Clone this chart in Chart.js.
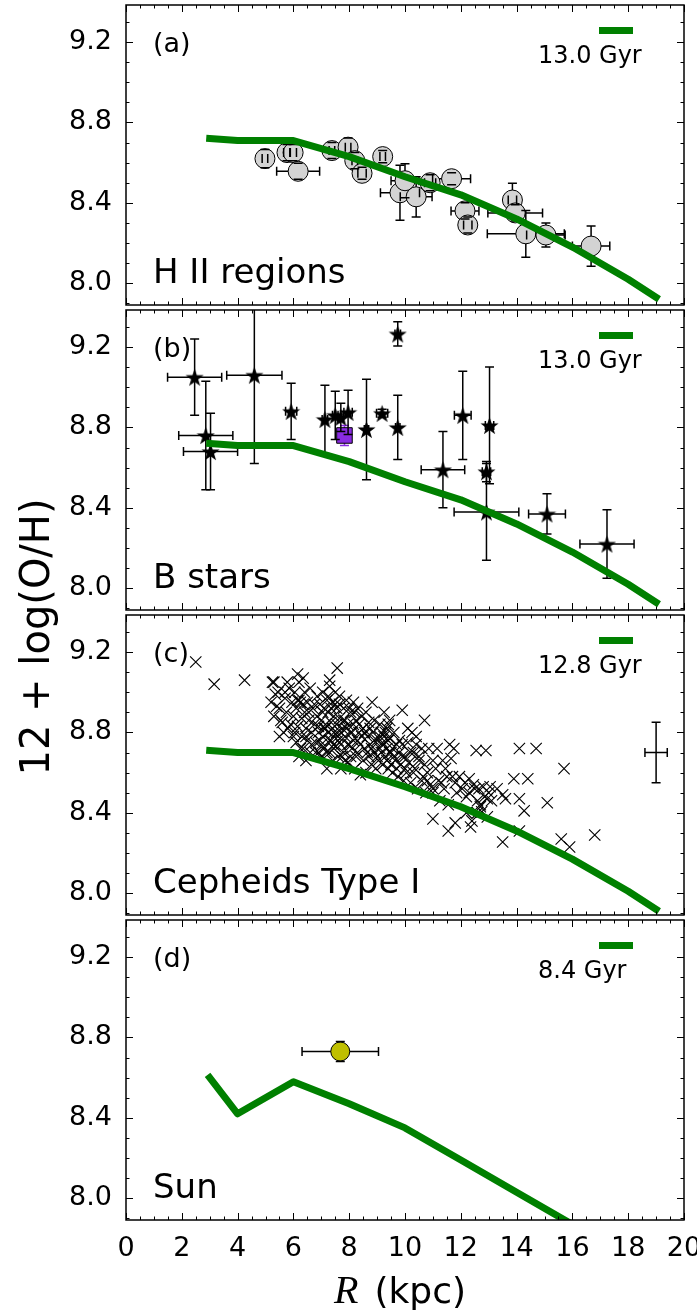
<!DOCTYPE html>
<html>
<head>
<meta charset="utf-8">
<script src="https://cdn.jsdelivr.net/npm/chart.js@4.4.0/dist/chart.umd.min.js"></script>
<style>
  body { margin: 0; background: #fff; }
  #fig { position: relative; width: 697px; height: 1314px; overflow: hidden; font-family: "DejaVu Sans", sans-serif; color: #000; }
  #fig canvas { position: absolute; left: 0; }
  .t { position: absolute; white-space: nowrap; line-height: 1; }
  .bar { position: absolute; background: #008000; }
</style>
</head>
<body>
<div id="fig"></div>
<script>
// ---- data ----
const X_TICKS = [0, 2, 4, 6, 8, 10, 12, 14, 16, 18, 20];
const Y_TICKS = [8.0, 8.4, 8.8, 9.2];
const Y_MIN = 7.892, Y_MAX = 9.384;

const PANEL_TAGS = ['(a)', '(b)', '(c)', '(d)'];
const PANEL_NAMES = ['H II regions', 'B stars', 'Cepheids Type I', 'Sun'];
const PANEL_AGES = ['13.0 Gyr', '13.0 Gyr', '12.8 Gyr', '8.4 Gyr'];

// model gradients
const MODEL_R = [3, 4, 6, 8, 10, 12, 14, 16, 18, 19];
const MODEL_13 = [8.72, 8.71, 8.71, 8.63, 8.53, 8.44, 8.32, 8.18, 8.02, 7.93];
const MODEL_128 = [8.71, 8.70, 8.70, 8.62, 8.53, 8.43, 8.31, 8.17, 8.01, 7.92];
const MODEL_R_SUN = [3, 4, 6, 8, 10, 12, 14, 16, 18];
const MODEL_84 = [8.60, 8.42, 8.58, 8.47, 8.35, 8.19, 8.03, 7.87, 7.70];

// (a) H II regions
const HII_R = [4.98, 5.77, 5.99, 6.17, 7.38, 7.96, 8.2, 8.46, 9.2, 9.82, 10.0, 10.4, 10.9, 11.67, 12.15, 12.25, 13.85, 13.95, 14.33, 15.05, 16.67];
const HII_OH = [8.62, 8.65, 8.65, 8.557, 8.66, 8.677, 8.61, 8.547, 8.63, 8.45, 8.51, 8.43, 8.5, 8.52, 8.36, 8.29, 8.414, 8.35, 8.246, 8.24, 8.185];
const HII_RERR = [0.1, 0.12, 0.12, 0.77, 0.1, 0.1, 0.1, 0.15, 0.1, 0.7, 0.5, 0.57, 0.2, 0.68, 0.5, 0.15, 0.15, 0.98, 1.38, 0.69, 0.67];
const HII_OHERR = [0.045, 0.04, 0.04, 0.04, 0.04, 0.045, 0.04, 0.03, 0.03, 0.137, 0.085, 0.1, 0.04, 0.03, 0.04, 0.04, 0.083, 0.04, 0.116, 0.06, 0.1];

// (b) B stars
const BST_R = [2.46, 4.6, 2.86, 3.03, 5.92, 7.13, 7.5, 7.7, 7.96, 8.62, 9.18, 9.74, 9.74, 11.36, 12.07, 13.03, 12.92, 12.92, 15.09, 17.24];
const BST_OH = [9.05, 9.06, 8.76, 8.68, 8.88, 8.84, 8.86, 8.85, 8.875, 8.79, 8.87, 9.265, 8.80, 8.59, 8.86, 8.81, 8.58, 8.38, 8.37, 8.22];
const BST_RERR = [0.97, 0.99, 0.97, 0.97, 0.2, 0.1, 0.1, 0.1, 0.15, 0.08, 0.2, 0.1, 0.08, 0.78, 0.3, 0.15, 0.15, 1.16, 0.66, 0.97];
const BST_OHERR = [0.19, 0.44, 0.27, 0.19, 0.14, 0.17, 0.12, 0.07, 0.11, 0.25, 0.02, 0.06, 0.16, 0.19, 0.22, 0.29, 0.05, 0.24, 0.10, 0.17];
const BSQ_R = [7.83], BSQ_OH = [8.76], BSQ_RERR = [0.18], BSQ_OHERR = [0.05];

// (c) Cepheids
const CEPH_R = [
  2.5, 3.16, 4.25, 5.3, 5.78, 6.15, 7.57, 7.3, 8.82, 9.9, 10.7,
  5.2, 5.25, 5.3, 5.4, 5.45, 5.5, 5.6, 5.65, 5.7, 5.75, 5.8, 5.85, 5.5, 5.35,
  5.95, 6.0, 6.0, 6.05, 6.1, 6.1, 6.15, 6.2, 6.2, 6.25, 6.3, 6.3, 6.35, 6.35, 6.4, 6.4, 6.45, 6.5, 6.5, 6.55, 6.6, 6.6, 6.65, 6.7, 6.75, 6.8, 6.85, 6.85, 6.2, 6.45,
  6.9, 6.9, 6.95, 7.0, 7.0, 7.05, 7.05, 7.1, 7.1, 7.15, 7.2, 7.2, 7.25, 7.25, 7.3, 7.3, 7.35, 7.35, 7.4, 7.4, 7.45, 7.45, 7.5, 7.5, 7.55, 7.55, 7.6, 7.6, 7.65, 7.65, 7.7, 7.7, 7.75, 7.8, 7.8, 7.1, 7.45,
  7.85, 7.85, 7.9, 7.95, 7.95, 8.0, 8.05, 8.05, 8.1, 8.15, 8.15, 8.2, 8.25, 8.3, 8.3, 8.35, 8.4, 8.4, 8.45, 8.5, 8.5, 8.55, 8.6, 8.6, 8.65, 8.7, 8.7, 8.75, 8.8,
  8.85, 8.9, 8.9, 8.95, 9.0, 9.05, 9.1, 9.1, 9.15, 9.2, 9.2, 9.25, 9.3, 9.35, 9.35, 9.4, 9.45, 9.45, 9.5, 9.55, 9.6, 9.65, 9.7, 9.75, 9.8, 9.25, 9.4,
  9.85, 9.9, 9.95, 10.0, 10.05, 10.1, 10.15, 10.2, 10.25, 10.3, 10.35, 10.4, 10.45, 10.5, 10.6, 10.65, 10.7, 10.75, 10.4, 10.1,
  10.8, 10.85, 10.9, 11.0, 11.0, 11.1, 11.15, 11.2, 11.25, 11.35, 11.4, 11.45, 11.55, 11.6, 11.65, 11.75, 11.8, 11.5,
  11.85, 11.95, 12.05, 12.15, 12.2, 12.3, 12.3, 12.4, 12.45, 12.5, 12.6, 12.65, 12.7, 12.8, 12.95, 13.0, 13.05,
  12.55, 12.9, 14.1, 14.7, 15.7, 13.9, 14.4, 15.1, 14.27, 14.1, 13.5, 13.6, 11.0, 11.55, 11.8, 12.35, 13.5, 14.1, 15.6, 15.9, 16.8, 12.75, 12.7, 12.95,
  5.55, 5.7, 5.9, 6.05, 6.15, 6.25, 6.35, 6.45, 6.55, 6.65, 6.75, 6.8, 6.9, 6.95, 7.0, 7.05, 7.15, 7.2, 7.25, 7.3, 7.35, 7.4, 7.45, 7.5, 7.55,
  7.6, 7.65, 7.7, 7.75, 7.8, 7.85, 7.9, 7.95, 8.0, 8.05, 8.1, 8.15, 8.2, 8.25, 8.3, 8.35, 8.45, 8.55, 8.65, 8.75, 8.8, 8.9, 9.0, 9.1, 9.15,
  9.2, 9.3, 9.35, 9.4, 9.45, 9.5, 9.55, 9.6, 9.7, 9.8, 9.9, 10.0, 10.2, 10.3, 10.5, 10.6, 10.8, 11.0, 11.3, 11.7, 12.2, 12.6, 12.85, 13.1, 13.3
];
const CEPH_OH = [
  9.15, 9.04, 9.06, 9.05, 9.05, 9.09, 9.12, 9.06, 8.95, 8.91, 8.86,
  8.95, 9.05, 8.88, 8.93, 9.0, 8.92, 8.85, 8.8, 8.97, 8.9, 8.82, 9.02, 8.78, 8.99,
  8.95, 8.88, 8.78, 9.0, 8.92, 8.75, 8.83, 8.68, 9.05, 8.95, 8.87, 8.78, 8.72, 9.07, 9.0, 8.9, 8.82, 8.95, 8.76, 8.86, 8.7, 9.02, 8.8, 8.92, 8.84, 8.75, 8.98, 8.88, 8.96, 8.66,
  8.7, 8.8, 8.94, 8.86, 8.68, 9.0, 8.78, 8.92, 8.72, 8.84, 8.96, 8.62, 8.8, 8.9, 8.7, 9.03, 8.85, 8.76, 8.95, 8.66, 8.88, 8.8, 8.73, 9.0, 8.84, 8.92, 8.68, 8.78, 8.87, 8.98, 8.74, 8.62, 8.82, 8.92, 8.7, 8.82, 8.74,
  8.86, 8.78, 8.96, 8.65, 8.84, 8.74, 8.9, 8.68, 8.8, 8.95, 8.76, 8.62, 8.86, 8.7, 8.92, 8.8, 8.59, 8.74, 8.88, 8.66, 8.82, 8.72, 8.9, 8.6, 8.78, 8.68, 8.85, 8.74, 8.64,
  8.8, 8.7, 8.86, 8.62, 8.76, 8.66, 8.72, 8.84, 8.8, 8.64, 8.75, 8.9, 8.68, 8.82, 8.72, 8.62, 8.77, 8.86, 8.7, 8.6, 8.8, 8.66, 8.74, 8.58, 8.7, 8.78, 8.84,
  8.64, 8.74, 8.56, 8.68, 8.6, 8.75, 8.65, 8.55, 8.8, 8.7, 8.62, 8.74, 8.52, 8.66, 8.72, 8.58, 8.64, 8.5, 8.78, 8.82,
  8.6, 8.72, 8.54, 8.66, 8.5, 8.62, 8.72, 8.56, 8.46, 8.66, 8.52, 8.62, 8.44, 8.74, 8.67, 8.72, 8.55, 8.58,
  8.5, 8.58, 8.52, 8.55, 8.4, 8.57, 8.5, 8.36, 8.54, 8.52, 8.4, 8.52, 8.44, 8.53, 8.38, 8.5, 8.53,
  8.71, 8.71, 8.72, 8.72, 8.62, 8.57, 8.57, 8.45, 8.41, 8.47, 8.49, 8.47, 8.37, 8.31, 8.35, 8.33, 8.255, 8.31, 8.27, 8.23, 8.29, 8.405, 8.43, 8.47,
  8.86, 9.0, 8.84, 8.8, 8.96, 8.72, 8.94, 8.78, 8.9, 8.74, 8.94, 8.7, 8.83, 8.76, 8.74, 8.9, 8.82, 8.7, 8.98, 8.76, 8.92, 8.82, 8.72, 8.94, 8.8,
  8.76, 8.94, 8.8, 8.68, 8.86, 8.66, 8.82, 8.74, 8.92, 8.8, 8.72, 8.84, 8.9, 8.68, 8.76, 8.84, 8.78, 8.8, 8.7, 8.82, 8.72, 8.76, 8.68, 8.78, 8.7,
  8.74, 8.8, 8.66, 8.76, 8.7, 8.64, 8.72, 8.68, 8.62, 8.76, 8.68, 8.62, 8.7, 8.6, 8.68, 8.56, 8.56, 8.52, 8.55, 8.58, 8.48, 8.46, 8.48, 8.46, 8.52
];
// representative Cepheid uncertainty
const CEPH_BAR_R = [19.0], CEPH_BAR_OH = [8.70], CEPH_BAR_RERR = [0.4], CEPH_BAR_OHERR = [0.15];

// (d) Sun
const SUN_R = [7.68], SUN_OH = [8.73], SUN_RERR = [1.37], SUN_OHERR = [0.05];

// ---- helpers ----
const GREEN = '#008000';
const FONT = 'DejaVu Sans';
const pts = (xs, ys) => xs.map((x, i) => ({ x: x, y: ys[i] }));

function starImage(size) {
  const c = document.createElement('canvas');
  c.width = c.height = size;
  const g = c.getContext('2d');
  const r = size / 2, ri = r * 0.39;
  g.beginPath();
  for (let i = 0; i < 10; i++) {
    const a = -Math.PI / 2 + i * Math.PI / 5;
    const rr = i % 2 ? ri : r;
    g.lineTo(r + rr * Math.cos(a), r + 1 + rr * Math.sin(a));
  }
  g.closePath();
  g.fillStyle = '#000';
  g.fill();
  return c;
}

// error bars: bar lines under the marker, caps over it (matplotlib look)
function drawErr(chart, idx, part) {
  const ds = chart.data.datasets[idx];
  if (!ds.xErr && !ds.yErr) return;
  const { ctx, chartArea: a, scales: { x, y } } = chart;
  ctx.save();
  ctx.beginPath();
  ctx.rect(a.left, a.top, a.right - a.left, a.bottom - a.top);
  ctx.clip();
  ctx.strokeStyle = ds.errColor || '#000';
  ctx.lineWidth = 1.5;
  const cap = 4.5;
  ds.data.forEach((p, i) => {
    const px = x.getPixelForValue(p.x), py = y.getPixelForValue(p.y);
    const ex = ds.xErr ? ds.xErr[i] : 0, ey = ds.yErr ? ds.yErr[i] : 0;
    ctx.beginPath();
    if (ex) {
      const l = x.getPixelForValue(p.x - ex), r = x.getPixelForValue(p.x + ex);
      if (part === 'bars') { ctx.moveTo(l, py); ctx.lineTo(r, py); }
      else {
        ctx.moveTo(l, py - cap); ctx.lineTo(l, py + cap);
        ctx.moveTo(r, py - cap); ctx.lineTo(r, py + cap);
      }
    }
    if (ey) {
      const t = y.getPixelForValue(p.y + ey), b = y.getPixelForValue(p.y - ey);
      if (part === 'bars') { ctx.moveTo(px, t); ctx.lineTo(px, b); }
      else {
        ctx.moveTo(px - cap, t); ctx.lineTo(px + cap, t);
        ctx.moveTo(px - cap, b); ctx.lineTo(px + cap, b);
      }
    }
    ctx.stroke();
  });
  ctx.restore();
}

const errorBars = {
  id: 'errorBars',
  beforeDatasetDraw(chart, args) { drawErr(chart, args.index, 'bars'); },
  afterDatasetDraw(chart, args) { drawErr(chart, args.index, 'caps'); }
};

// box and inward ticks on all four sides
const frame = {
  id: 'frame',
  afterDraw(chart) {
    const { ctx, chartArea: a, scales: { x, y } } = chart;
    ctx.save();
    ctx.strokeStyle = '#000';
    ctx.lineWidth = 1;
    ctx.beginPath();
    for (let k = 0; k <= 40; k++) {
      const px = Math.round(x.getPixelForValue(k / 2)) + 0.5;
      const len = (k % 4 === 0) ? 7 : 3.5;
      ctx.moveTo(px, a.bottom); ctx.lineTo(px, a.bottom - len);
      ctx.moveTo(px, a.top); ctx.lineTo(px, a.top + len);
    }
    for (let k = 79; k <= 93; k++) {
      const py = Math.round(y.getPixelForValue(k / 10)) + 0.5;
      const len = (k % 4 === 0) ? 7 : 3.5;
      ctx.moveTo(a.left, py); ctx.lineTo(a.left + len, py);
      ctx.moveTo(a.right, py); ctx.lineTo(a.right - len, py);
    }
    ctx.stroke();
    ctx.lineWidth = 1.5;
    ctx.strokeRect(a.left, a.top, a.right - a.left, a.bottom - a.top);
    ctx.restore();
  }
};

function modelSet(xs, ys) {
  return {
    data: pts(xs, ys), showLine: true, pointRadius: 0, borderColor: GREEN,
    borderWidth: 7, borderCapStyle: 'square', borderJoinStyle: 'round', order: 0
  };
}

const fig = document.getElementById('fig');
const PANEL_TOP = [5, 310, 615, 920];
const PANEL_H = 300;

function makePanel(i, datasets) {
  const last = i === 3;
  const cv = document.createElement('canvas');
  const top = PANEL_TOP[i] - 5;
  const h = last ? 1314 - top : PANEL_H + 10;
  cv.width = 697; cv.height = h;
  cv.style.top = top + 'px';
  fig.appendChild(cv);
  new Chart(cv, {
    type: 'scatter',
    data: { datasets: datasets },
    options: {
      responsive: false, animation: false, devicePixelRatio: 1,
      layout: { autoPadding: false, padding: { top: 5, right: 13, bottom: last ? 0 : 5, left: 0 } },
      plugins: { legend: { display: false }, tooltip: { enabled: false } },
      scales: {
        x: {
          type: 'linear', min: 0, max: 20, display: last,
          grid: { display: false }, border: { display: false },
          afterBuildTicks: s => { s.ticks = X_TICKS.map(v => ({ value: v })); },
          afterFit: s => {
            if (last) s.height = h - 5 - PANEL_H;
            s.paddingLeft = 0; s.paddingRight = 0;
          },
          ticks: { color: '#000', font: { family: FONT, size: 27 }, padding: 5, maxRotation: 0, autoSkip: false }
        },
        y: {
          type: 'linear', min: Y_MIN, max: Y_MAX,
          grid: { display: false }, border: { display: false },
          afterBuildTicks: s => { s.ticks = Y_TICKS.map(v => ({ value: v })); },
          afterFit: s => { s.width = 126; s.paddingTop = 0; s.paddingBottom = 0; },
          ticks: { color: '#000', font: { family: FONT, size: 27 }, padding: 6, callback: v => v.toFixed(1) }
        }
      }
    },
    plugins: [errorBars, frame]
  });

  // panel texts
  const T = PANEL_TOP[i];
  addText(PANEL_TAGS[i], 153, T + 47, 27);
  addText(PANEL_NAMES[i], 153, T + 278, 34);
  addText(PANEL_AGES[i], 538, T + 58, 24);
  const bar = document.createElement('div');
  bar.className = 'bar';
  bar.style.cssText = `left:599px;top:${T + 22}px;width:34px;height:7px;`;
  fig.appendChild(bar);
}

function addText(txt, left, baseline, size) {
  const d = document.createElement('div');
  d.className = 't';
  d.textContent = txt;
  d.style.left = left + 'px';
  d.style.top = (baseline - 0.846 * size) + 'px';
  d.style.fontSize = size + 'px';
  fig.appendChild(d);
}

const star = starImage(19);

makePanel(0, [
  modelSet(MODEL_R, MODEL_13),
  { data: pts(HII_R, HII_OH), xErr: HII_RERR, yErr: HII_OHERR, pointStyle: 'circle', pointRadius: 10,
    backgroundColor: '#d3d3d3', borderColor: '#000', borderWidth: 1, order: 1 }
]);
makePanel(1, [
  modelSet(MODEL_R, MODEL_13),
  { data: pts(BST_R, BST_OH), xErr: BST_RERR, yErr: BST_OHERR, pointStyle: star, pointRadius: 9, order: 1 },
  { data: pts(BSQ_R, BSQ_OH), xErr: BSQ_RERR, yErr: BSQ_OHERR, errColor: '#8a2be2', pointStyle: 'rect', pointRadius: 11,
    backgroundColor: '#8a2be2', borderColor: '#000', borderWidth: 1, order: 2 }
]);
makePanel(2, [
  modelSet(MODEL_R, MODEL_128),
  { data: pts(CEPH_R, CEPH_OH), pointStyle: 'crossRot', pointRadius: 8, borderColor: '#000', borderWidth: 1.1, order: 1 },
  { data: pts(CEPH_BAR_R, CEPH_BAR_OH), xErr: CEPH_BAR_RERR, yErr: CEPH_BAR_OHERR, pointRadius: 0, order: 2 }
]);
makePanel(3, [
  modelSet(MODEL_R_SUN, MODEL_84),
  { data: pts(SUN_R, SUN_OH), xErr: SUN_RERR, yErr: SUN_OHERR, pointStyle: 'circle', pointRadius: 9.5,
    backgroundColor: '#bfbf00', borderColor: '#000', borderWidth: 1, order: 1 }
]);

// axis titles
const yl = document.createElement('div');
yl.className = 't';
yl.textContent = '12 + log(O/H)';
yl.style.cssText = 'left:-165px;top:617px;width:400px;height:40px;line-height:40px;font-size:40px;text-align:center;transform:rotate(-90deg);';
fig.appendChild(yl);

const xl = document.createElement('div');
xl.className = 't';
xl.style.cssText = 'left:0;width:800px;text-align:center;top:' + (1300 - 0.846 * 36) + 'px;font-size:36px;';
xl.innerHTML = '<span style="font-family:\'Liberation Serif\',serif;font-style:italic;font-size:40px;">R</span><span style="display:inline-block;width:16px"></span>(kpc)';
fig.appendChild(xl);
</script>
</body>
</html>
